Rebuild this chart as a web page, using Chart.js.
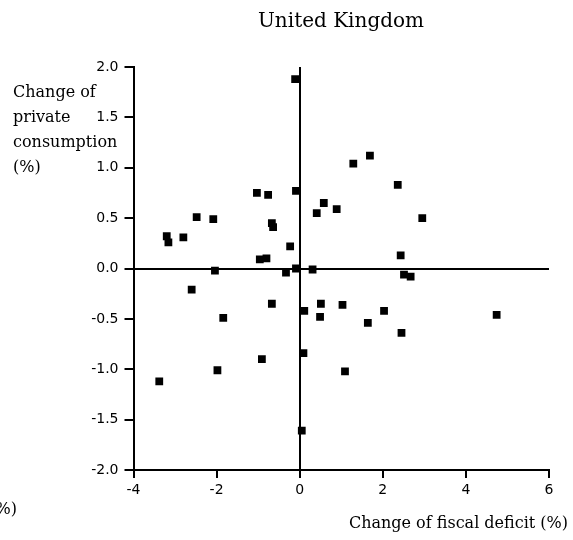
<!DOCTYPE html>
<html>
<head>
<meta charset="utf-8">
<script src="https://cdn.jsdelivr.net/npm/chart.js@4"></script>
<style>
  body { margin: 0; background: #fff; }
</style>
</head>
<body>
<canvas id="ukChart" width="573" height="540"></canvas>
<script>
// change of fiscal deficit (%)
const fiscalDeficit = [
  -0.11, -1.03, -0.76, -0.09, -2.48, -2.08, -3.20, -3.16, -2.80, -0.67,
  -0.64, -0.23, -0.96, -0.80, -0.09, 0.31, -2.04, 1.29, 1.69, 2.36,
  0.58, 0.41, 0.89, 2.95, 2.43, -2.60, -0.33, -0.67, -1.84, -0.91,
  -1.98, -3.38, 0.05, 0.09, 0.11, 0.51, 0.49, 1.03, 1.09, 2.51,
  2.67, 2.03, 1.64, 2.45, 4.74
];
// change of private consumption (%)
const privateConsumption = [
  1.88, 0.75, 0.73, 0.77, 0.51, 0.49, 0.32, 0.26, 0.31, 0.45,
  0.41, 0.22, 0.09, 0.10, 0.00, -0.01, -0.02, 1.04, 1.12, 0.83,
  0.65, 0.55, 0.59, 0.50, 0.13, -0.21, -0.04, -0.35, -0.49, -0.90,
  -1.01, -1.12, -1.61, -0.84, -0.42, -0.35, -0.48, -0.36, -1.02, -0.06,
  -0.08, -0.42, -0.54, -0.64, -0.46
];
const xTicks = [-4, -2, 0, 2, 4, 6];
const yTicks = [-2.0, -1.5, -1.0, -0.5, 0.0, 0.5, 1.0, 1.5, 2.0];

const points = fiscalDeficit.map((x, i) => ({ x: x, y: privateConsumption[i] }));

const serif = '"DejaVu Serif", serif';
const sans = '"DejaVu Sans", sans-serif';

// zero lines only, other grid lines hidden
function zeroLine(ctx) {
  return ctx.tick && ctx.tick.value === 0 ? '#000' : 'rgba(0,0,0,0)';
}

const textPlugin = {
  id: 'texts',
  afterDraw(chart) {
    const c = chart.ctx;
    c.save();
    c.fillStyle = '#000';
    c.textBaseline = 'alphabetic';

    c.font = '20px ' + serif;
    c.textAlign = 'center';
    c.fillText('United Kingdom', 341, 27);

    c.font = '16px ' + serif;
    c.textAlign = 'left';
    ['Change of', 'private', 'consumption', '(%)'].forEach((t, i) => {
      c.fillText(t, 13, 97 + i * 25);
    });

    c.textAlign = 'right';
    c.fillText('Change of fiscal deficit (%)', 568, 528);
    c.fillText('(%)', 17, 514);
    c.restore();
  }
};

new Chart(document.getElementById('ukChart'), {
  type: 'scatter',
  data: {
    datasets: [{
      data: points,
      backgroundColor: '#000',
      borderWidth: 0,
      pointStyle: 'rect',
      pointRadius: 5.5,
      pointHoverRadius: 5.5
    }]
  },
  options: {
    responsive: false,
    animation: false,
    events: [],
    layout: { padding: { top: 67, right: 24, left: 0, bottom: 0 } },
    plugins: {
      legend: { display: false },
      tooltip: { enabled: false }
    },
    scales: {
      x: {
        type: 'linear',
        min: xTicks[0],
        max: xTicks[xTicks.length - 1],
        afterBuildTicks: s => { s.ticks = xTicks.map(v => ({ value: v })); },
        afterFit: s => { s.height = 70; },
        border: { display: true, color: '#000', width: 2 },
        grid: { color: zeroLine, tickColor: '#000', lineWidth: 2, tickLength: 8 },
        ticks: {
          color: '#000',
          font: { family: sans, size: 14 },
          padding: 4,
          maxRotation: 0,
          callback: v => String(v)
        }
      },
      y: {
        type: 'linear',
        min: yTicks[0],
        max: yTicks[yTicks.length - 1],
        afterBuildTicks: s => { s.ticks = yTicks.map(v => ({ value: v })); },
        afterFit: s => { s.width = 133.5; },
        border: { display: true, color: '#000', width: 2 },
        grid: { color: zeroLine, tickColor: '#000', lineWidth: 2, tickLength: 9 },
        ticks: {
          color: '#000',
          font: { family: sans, size: 14 },
          padding: 6,
          callback: v => v.toFixed(1)
        }
      }
    }
  },
  plugins: [textPlugin]
});
</script>
</body>
</html>
